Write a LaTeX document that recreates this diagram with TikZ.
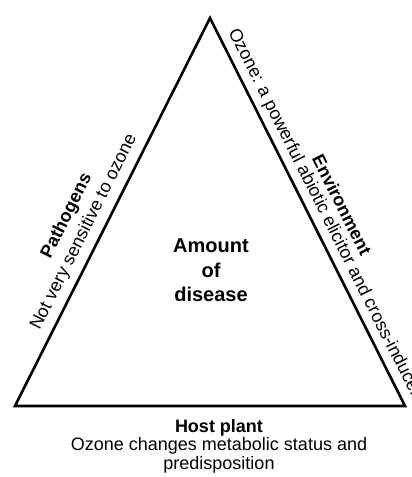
\documentclass[tikz,border=0pt]{standalone}
\usepackage{fontspec}
\setmainfont{Liberation Sans}
\usepackage{tikz}
\usetikzlibrary{calc}

\begin{document}
\begin{tikzpicture}[x=1pt, y=1pt,
    lbl/.style={inner sep=0pt, font=\fontsize{18}{18.5}\selectfont},
    ttl/.style={inner sep=0pt, font=\bfseries\fontsize{18}{18.5}\selectfont}]
  \useasboundingbox (0,0) rectangle (412,477);
  \coordinate (A) at (210,459);
  \coordinate (B) at (15,71);
  \coordinate (C) at (405,71);
  \draw[line width=2.6pt] (A)--(B)--(C)--cycle;
  % sides
  \node[ttl, rotate=63.31] (path) at (67,261) {Pathogens};
  \node[lbl, rotate=63.31] (pathtxt) at (84,245) {Not very sensitive to ozone};
  \node[ttl, rotate=-63.31] (env) at (342,272) {Environment};
  \node[lbl, rotate=-63.31, anchor=base west] (envtxt) at (228.1,445.1) {Ozone: a powerful abiotic elicitor and cross-inducer};
  % centre and base
  \node[ttl, align=center, font=\bfseries\fontsize{20}{24.5}\selectfont] (dis) at (211,206.7) {Amount\\of\\disease};
  \node[lbl, align=center] (host) at (219,31) {\textbf{Host plant}\\Ozone changes metabolic status and\\predisposition};
\end{tikzpicture}
\end{document}
